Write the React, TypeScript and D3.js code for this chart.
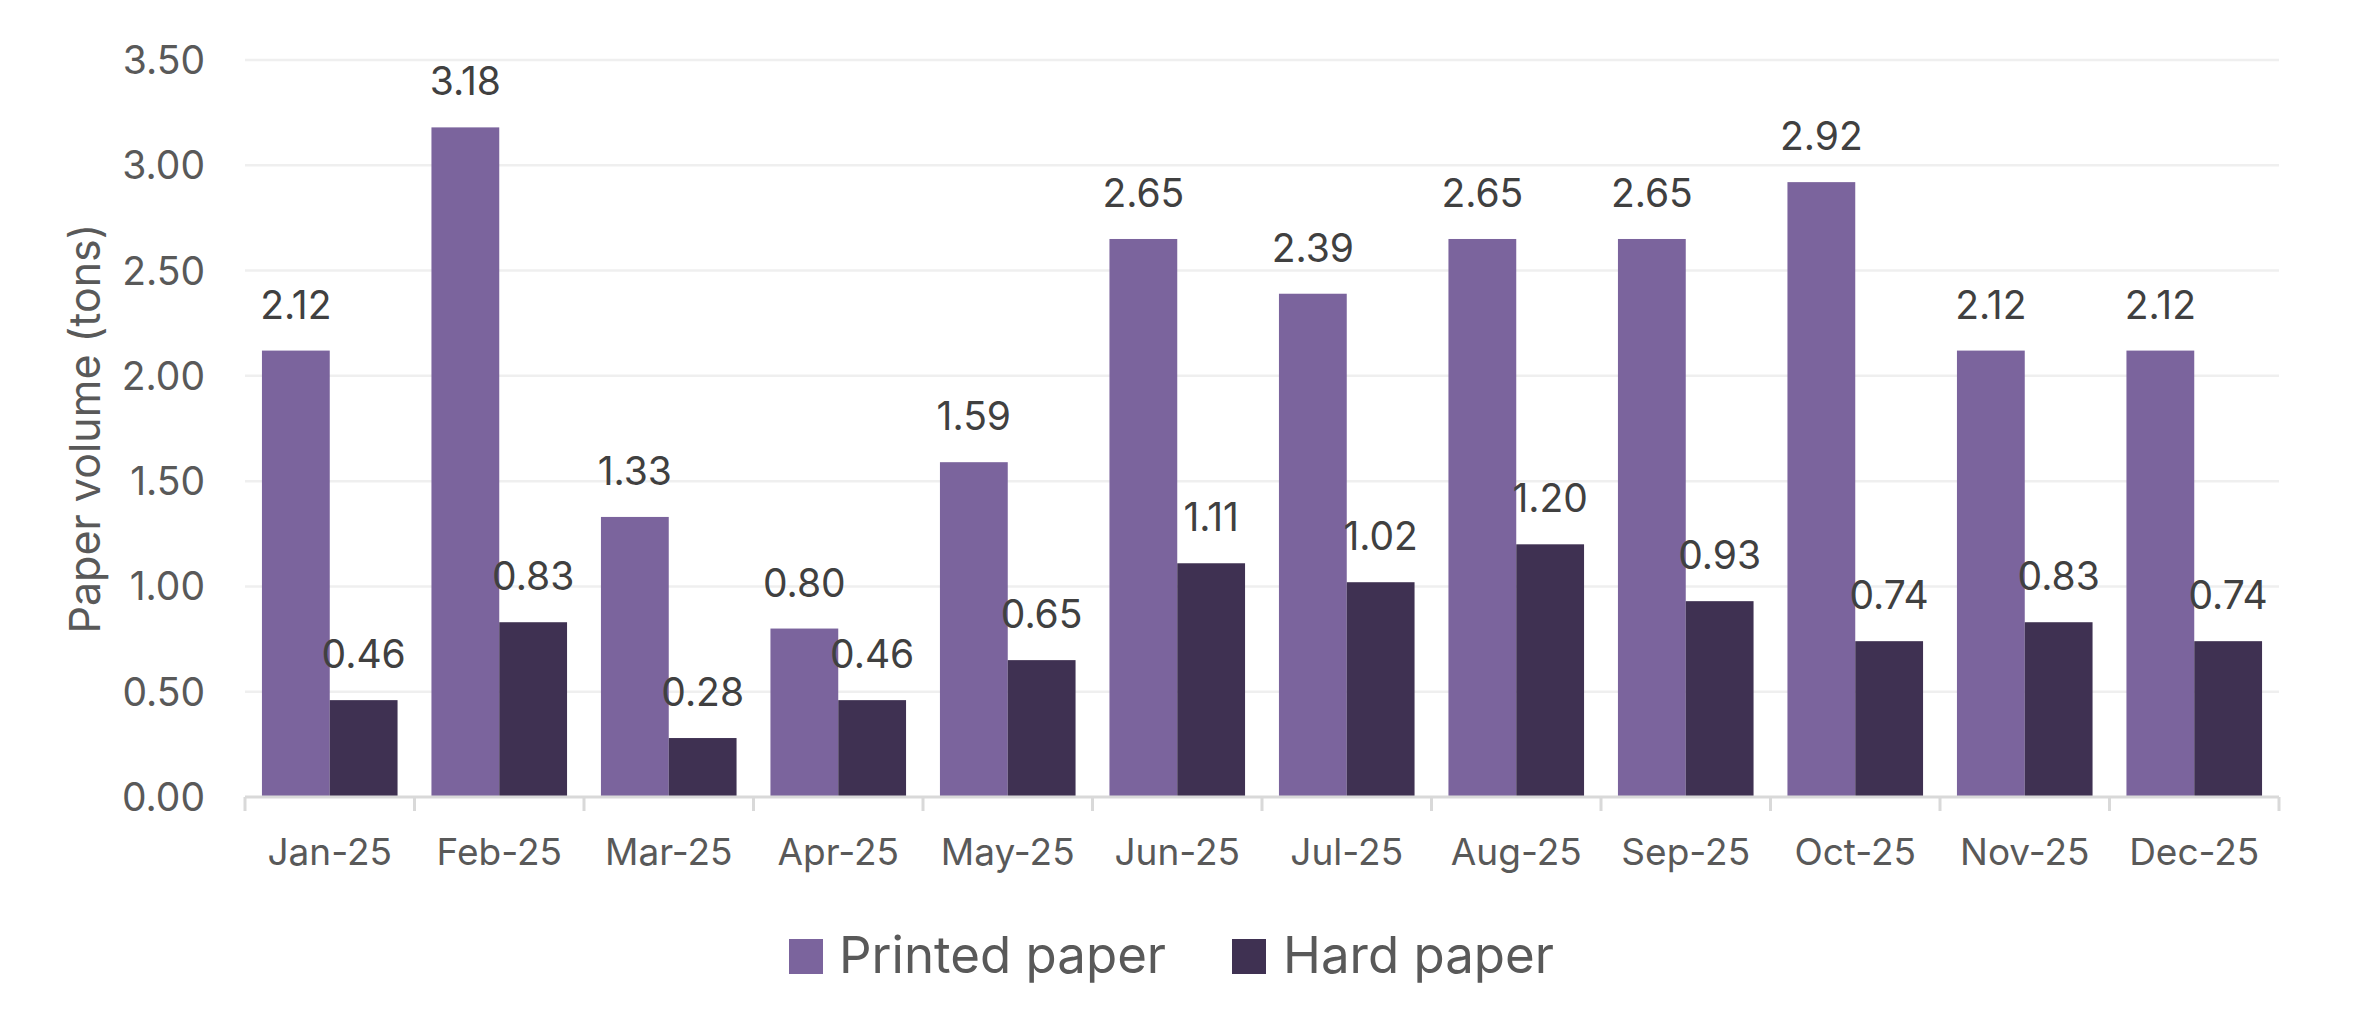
import React, { useEffect } from "react";
import * as d3 from "d3";

const months = ["Jan-25","Feb-25","Mar-25","Apr-25","May-25","Jun-25","Jul-25","Aug-25","Sep-25","Oct-25","Nov-25","Dec-25"];
const printedPaper = [2.12, 3.18, 1.33, 0.80, 1.59, 2.65, 2.39, 2.65, 2.65, 2.92, 2.12, 2.12];
const hardPaper = [0.46, 0.83, 0.28, 0.46, 0.65, 1.11, 1.02, 1.20, 0.93, 0.74, 0.83, 0.74];
const seriesNames = ["Printed paper", "Hard paper"];
const seriesColors = ["#7B649D", "#3F3152"];
const yTicks = [0, 0.5, 1, 1.5, 2, 2.5, 3, 3.5];

const W = 2366, H = 1022;
const FONT = "Inter, 'Liberation Sans', Arial, sans-serif";

export default function App() {
  useEffect(() => { document.body.style.margin = "0"; }, []);
  const left = 245, right = 2279, top = 60, bottom = 797;
  const x0 = d3.scaleBand<string>().domain(months).range([left, right]).padding(0);
  const bw = x0.bandwidth();
  const pad = bw * 0.1;
  const x1 = d3.scaleBand<string>().domain(seriesNames).range([pad, bw - pad]).padding(0);
  const y = d3.scaleLinear().domain([0, 3.5]).range([bottom, top]);
  const series = [printedPaper, hardPaper];

  const legendItems = [
    { name: seriesNames[0], color: seriesColors[0], sx: 789, tx: 839 },
    { name: seriesNames[1], color: seriesColors[1], sx: 1232, tx: 1283 },
  ];

  return (
    <svg width={W} height={H} style={{ position: "absolute", left: 0, top: 0, background: "#fff" }} fontFamily={FONT}>
      <rect x={0} y={0} width={W} height={H} fill="#fff" />
      {yTicks.map((t) => (
        <g key={t}>
          {t > 0 && <line x1={left} x2={right} y1={y(t)} y2={y(t)} stroke="#EFEFEF" strokeWidth={2.5} />}
          <text x={205} y={y(t)} dy="0.36em" textAnchor="end" fontSize={39} fill="#595959">{t.toFixed(2)}</text>
        </g>
      ))}
      <text transform={`translate(100,${(top + bottom) / 2}) rotate(-90)`} textAnchor="middle" fontSize={43} fill="#595959">Paper volume (tons)</text>
      {months.map((m, i) => (
        <g key={m} transform={`translate(${x0(m)},0)`}>
          {series.map((s, j) => {
            const v = s[i];
            const bx = x1(seriesNames[j])!;
            const w = x1.bandwidth();
            return (
              <g key={j}>
                <rect x={bx} y={y(v)} width={w} height={bottom - y(v)} fill={seriesColors[j]} />
                <text x={bx + w / 2} y={y(v) - 32} textAnchor="middle" fontSize={39} fill="#404040">{v.toFixed(2)}</text>
              </g>
            );
          })}
          <text x={bw / 2} y={865} textAnchor="middle" fontSize={37} fill="#595959">{m}</text>
        </g>
      ))}
      <line x1={left} x2={right} y1={bottom} y2={bottom} stroke="#D9D9D9" strokeWidth={3} />
      {[...months.map((m) => x0(m)!), right].map((tx, i) => (
        <line key={i} x1={tx} x2={tx} y1={bottom} y2={bottom + 14} stroke="#D9D9D9" strokeWidth={3} />
      ))}
      {legendItems.map((l) => (
        <g key={l.name}>
          <rect x={l.sx} y={939} width={34} height={35} fill={l.color} />
          <text x={l.tx} y={973} fontSize={51} fill="#595959">{l.name}</text>
        </g>
      ))}
    </svg>
  );
}
